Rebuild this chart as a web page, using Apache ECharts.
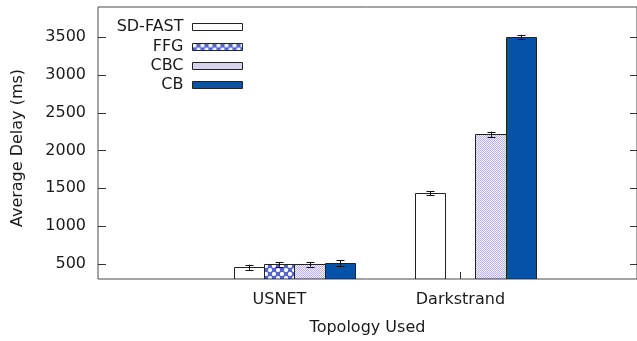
<!DOCTYPE html>
<html>
<head>
<meta charset="utf-8">
<script src="https://cdn.jsdelivr.net/npm/echarts@6/dist/echarts.min.js"></script>
<style>html,body{margin:0;padding:0;background:#fff;}#c{width:637px;height:341px;}</style>
</head>
<body>
<div id="c"></div>
<script>
// ---- data ----
const categories = ['USNET', 'Darkstrand'];
const seriesNames = ['SD-FAST', 'FFG', 'CBC', 'CB'];
const sdFast = [455, 1435];
const sdFastErr = [35, 25];
const ffg = [495, null];
const ffgErr = [30, null];
const cbc = [495, 2215];
const cbcErr = [30, 35];
const cb = [510, 3505];
const cbErr = [35, 25];
const yTickValues = [500, 1000, 1500, 2000, 2500, 3000, 3500];

const values = [sdFast, ffg, cbc, cb];
const errors = [sdFastErr, ffgErr, cbcErr, cbErr];

const FONT = 'DejaVu Sans';
const TXT = '#1a1a1a';
const EDGE = '#222';
const Y_MIN = 300, Y_MAX = 3900;
const SLOT = 1 / 6;

function patternFFG() {
  const c = document.createElement('canvas');
  c.width = 8; c.height = 8;
  const g = c.getContext('2d');
  g.fillStyle = '#5366d3'; g.fillRect(0, 0, 8, 8);
  g.fillStyle = '#ffffff';
  [[2, 2], [6, 6]].forEach(p => { g.beginPath(); g.arc(p[0], p[1], 2.1, 0, Math.PI * 2); g.fill(); });
  return { image: c, repeat: 'repeat' };
}
function patternCBC() {
  const c = document.createElement('canvas');
  c.width = 4; c.height = 4;
  const g = c.getContext('2d');
  g.fillStyle = '#f1eff8'; g.fillRect(0, 0, 4, 4);
  g.fillStyle = '#bdb6dc';
  for (let y = 0; y < 4; y++) for (let x = 0; x < 4; x++) if ((x + y) % 2 === 0) g.fillRect(x, y, 1, 1);
  return { image: c, repeat: 'repeat' };
}
const fills = ['#ffffff', patternFFG(), patternCBC(), '#0453a8'];

function makeRender(j) {
  return function (params, api) {
    const idx = api.value(0);
    const v = api.value(1);
    const e = api.value(2);
    if (v == null || isNaN(v)) return;
    const center = idx + (j - 1.5) * SLOT;
    const tl = api.coord([center - SLOT / 2, v]);
    const br = api.coord([center + SLOT / 2, Y_MIN]);
    const x0 = Math.round(tl[0]) + 0.5, x1 = Math.round(br[0]) + 0.5;
    const y0 = Math.round(tl[1]) + 0.5, y1 = br[1];
    const children = [{
      type: 'rect',
      shape: { x: x0, y: y0, width: x1 - x0, height: y1 - y0 },
      style: { fill: fills[j], stroke: EDGE, lineWidth: 1 }
    }];
    if (e != null && !isNaN(e)) {
      const top = api.coord([center, v + e]);
      const bot = api.coord([center, v - e]);
      const cx = Math.round(top[0]) + 0.5;
      const st = { stroke: '#111', lineWidth: 1 };
      children.push({ type: 'line', shape: { x1: cx, y1: top[1], x2: cx, y2: bot[1] }, style: st });
      children.push({ type: 'line', shape: { x1: cx - 4, y1: Math.round(top[1]) + 0.5, x2: cx + 4, y2: Math.round(top[1]) + 0.5 }, style: st });
      children.push({ type: 'line', shape: { x1: cx - 4, y1: Math.round(bot[1]) + 0.5, x2: cx + 4, y2: Math.round(bot[1]) + 0.5 }, style: st });
    }
    return { type: 'group', children: children };
  };
}

const series = seriesNames.map((name, j) => ({
  name: name,
  type: 'custom',
  renderItem: makeRender(j),
  itemStyle: { color: fills[j], borderColor: EDGE, borderWidth: 1 },
  encode: { x: 0, y: 1 },
  data: categories.map((c, i) => [i, values[j][i], errors[j][i]]),
  clip: true,
  silent: true
}));

const legendCenters = [27, 47, 66, 85];
const legends = seriesNames.map((name, j) => ({
  data: [{ name: name, icon: 'rect', itemStyle: { color: fills[j], borderColor: EDGE, borderWidth: 1 } }],
  orient: 'vertical',
  align: 'right',
  right: 394,
  top: legendCenters[j] - 9,
  padding: 0,
  itemWidth: 50,
  itemHeight: 7,
  selectedMode: false,
  textStyle: { fontFamily: FONT, fontSize: 16, color: TXT, lineHeight: 18, padding: [0, 4, 0, 0] }
}));

const xTickPos = categories.map((c, i) => i - SLOT / 2);
const plain = v => String(v);

const chart = echarts.init(document.getElementById('c'), null, { renderer: 'canvas' });
chart.setOption({
  animation: false,
  backgroundColor: '#fff',
  legend: legends,
  grid: { left: 98, right: 0, top: 7, bottom: 61, show: true, borderColor: '#4a4a4a', borderWidth: 1, backgroundColor: 'transparent' },
  xAxis: {
    type: 'value',
    min: -1.0856,
    max: 1.8923,
    name: 'Topology Used',
    nameLocation: 'middle',
    nameGap: 41,
    nameTextStyle: { fontFamily: FONT, fontSize: 16, color: TXT },
    axisLine: { show: false, onZero: false },
    splitLine: { show: false },
    axisTick: { show: true, inside: true, length: 7, customValues: xTickPos, lineStyle: { color: '#333' } },
    axisLabel: {
      customValues: xTickPos,
      margin: 13,
      fontFamily: FONT, fontSize: 16, color: TXT,
      formatter: function (v) { return categories[Math.round(v + SLOT / 2)]; }
    }
  },
  yAxis: [{
    type: 'value',
    position: 'left',
    min: Y_MIN,
    max: Y_MAX,
    name: 'Average Delay (ms)',
    nameLocation: 'middle',
    nameGap: 72,
    nameTextStyle: { fontFamily: FONT, fontSize: 16, color: TXT, padding: [0, 10, 0, 0] },
    axisLine: { show: false, onZero: false },
    splitLine: { show: false },
    axisTick: { show: true, inside: true, length: 8, customValues: yTickValues, lineStyle: { color: '#333' } },
    axisLabel: { customValues: yTickValues, margin: 12, fontFamily: FONT, fontSize: 16, color: TXT, formatter: plain }
  }, {
    type: 'value',
    position: 'right',
    min: Y_MIN,
    max: Y_MAX,
    axisLine: { show: false, onZero: false },
    splitLine: { show: false },
    axisTick: { show: true, inside: true, length: 7, customValues: yTickValues, lineStyle: { color: '#333' } },
    axisLabel: { show: false }
  }],
  series: series
});
</script>
</body>
</html>
